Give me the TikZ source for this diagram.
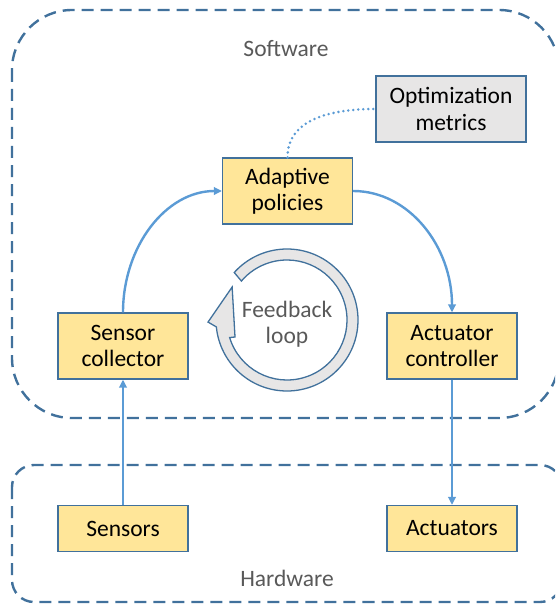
\documentclass[tikz,border=0pt]{standalone}
\usepackage{fontspec}
\setmainfont{Carlito}
\usetikzlibrary{arrows.meta}
\definecolor{frameblue}{HTML}{41719C}
\definecolor{linkblue}{HTML}{5B9BD5}
\definecolor{boxfill}{HTML}{FFE699}
\definecolor{metricfill}{HTML}{E7E6E6}
\definecolor{labelgray}{HTML}{595959}
\tikzset{
  txt/.style={font=\fontsize{23.5}{26.5}\selectfont},
  unit/.style={txt, draw=frameblue, line width=1.2pt, fill=boxfill,
    minimum width=130pt, align=center, inner sep=0pt},
  twoline/.style={unit, minimum height=66pt},
  oneline/.style={unit, minimum height=46pt},
  metricbox/.style={unit, fill=metricfill, minimum width=150pt, minimum height=66pt},
  layer/.style={draw=frameblue, line width=2.4pt, dash pattern=on 12pt off 7pt},
  layertitle/.style={txt, text=labelgray, align=center},
  link/.style={draw=linkblue, line width=2.4pt, -{Triangle[length=8pt,width=7.5pt]}},
  hint/.style={draw=linkblue, line width=2.8pt, line cap=round, dash pattern=on 0pt off 5pt},
  ring/.style={draw=frameblue, line width=1.3pt, fill=metricfill, line join=miter}
}
\begin{document}
\begin{tikzpicture}[x=1pt, y=1pt]
\useasboundingbox (0,0) rectangle (555,-604);
\clip (0,0) rectangle (555,-604);

% layer frames
\draw[layer, rounded corners=60pt] (12,-10) rectangle (559,-418);
\draw[layer, rounded corners=22pt] (12,-465) rectangle (562,-602);
\node[layertitle] (swlabel) at (286,-49) {Software};
\node[layertitle] (hwlabel) at (287,-578) {Hardware};

% blocks
\node[metricbox] (opt) at (451,-109) {Optimization\\metrics};
\node[twoline] (adapt) at (287.5,-191) {Adaptive\\policies};
\node[twoline] (sc) at (123,-346) {Sensor\\collector};
\node[twoline] (ac) at (452,-346) {Actuator\\controller};
\node[oneline] (sens) at (123,-528.5) {Sensors};
\node[oneline] (act) at (452,-528.5) {Actuators};

% feedback ring with its arrowhead
\begin{scope}[shift={(287,-320)}]
  \path[ring] (138:71) arc[start angle=138, end angle=-174.4, radius=71]
    -- (181.5:79) -- (149:64) -- (198.1:54.7) -- (-163:60)
    arc[start angle=-163, end angle=139.5, radius=60] -- cycle;
\end{scope}
\node[layertitle] (loop) at (287,-324) {Feedback\\loop};

% connectors
\draw[link] (sens.north) -- (sc.south);
\draw[link] (sc.north) .. controls +(0,66) and +(-56,0) .. (adapt.west);
\draw[link] (adapt.east) .. controls +(56,0) and +(0,66) .. (ac.north);
\draw[link] (ac.south) -- (act.north);
\draw[hint] (adapt.north) .. controls +(0,38) and +(-45,0) .. (opt.west);
\end{tikzpicture}
\end{document}
